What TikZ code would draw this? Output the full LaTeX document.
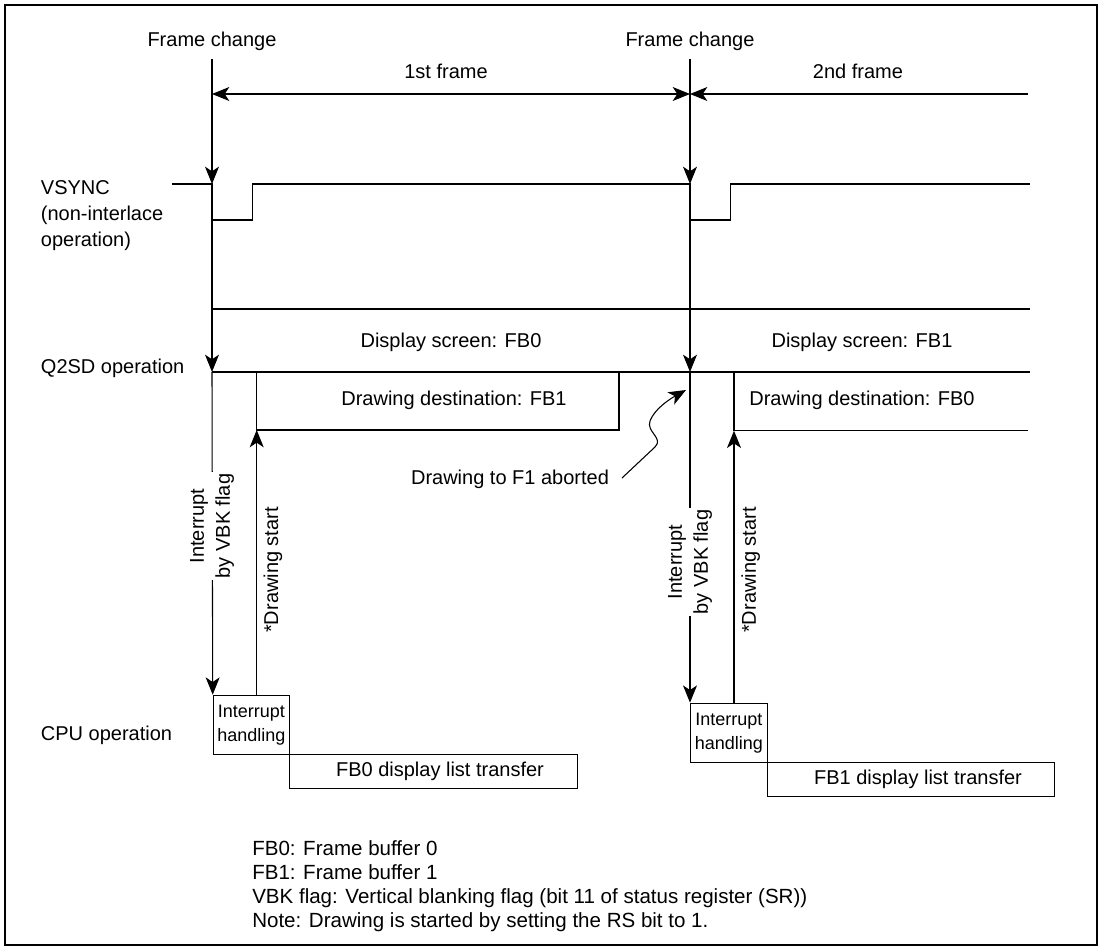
\documentclass[tikz,border=0pt]{standalone}
\usepackage{fontspec}
\setmainfont{Liberation Sans}
\usetikzlibrary{arrows.meta}
\tikzset{
  tip/.tip={Stealth[length=13pt,width=10.5pt,inset=3.5pt]},
  wire/.style={line width=0.8pt},
  arr/.style={wire,-tip},
  dblarr/.style={wire,tip-tip},
  txt/.style={inner sep=0pt,font=\fontsize{15}{19.5}\selectfont},
  smalltxt/.style={inner sep=0pt,font=\fontsize{13.5}{18}\selectfont},
  procbox/.style={draw,line width=0.8pt,inner sep=0pt,anchor=north west},
}
\begin{document}
\begin{tikzpicture}[x=0.75pt,y=-0.75pt]
\useasboundingbox (0,0) rectangle (1101,950);
\draw[line width=1.5pt] (5,5) rectangle (1097,945);

% frame change labels
\node[txt] (fc1) at (212,41) {Frame change};
\node[txt] (fc2) at (690,41) {Frame change};
\coordinate (l1top) at (212,59);
\coordinate (l2top) at (690,59);

% frame arrows
\coordinate (f1a) at (212,94);
\coordinate (f1b) at (690,94);
\coordinate (f2e) at (1028,94);
\draw[dblarr] (f1a) -- (f1b);
\draw[arr] (f2e) -- (f1b);
\node[txt] (first) at (446,71) {1st frame};
\node[txt] (second) at (858,71) {2nd frame};

% left labels
\node[txt,align=left,anchor=west] (vs) at (40.7,216) {VSYNC\\(non-interlace\\operation)};
\node[txt,anchor=west] (q2) at (40.7,368) {Q2SD operation};
\node[txt,anchor=west] (cpu) at (40.7,735) {CPU operation};

% VSYNC waveform
\coordinate (v1) at (212,184);
\coordinate (v2) at (690,184);
\draw[wire] (171.7,184) -- (v1) -- (212,220) -- (252.7,220) -- (252.7,184)
  -- (v2) -- (690,220) -- (730.7,220) -- (730.7,184) -- (1030,184);

% Q2SD operation
\coordinate (q1) at (212,372);
\coordinate (q2p) at (690,372);
\draw[wire] (212,309) -- (1030,309);
\draw[wire] (q1) -- (1030,372);
\node[txt] (ds0) at (451,342) {Display screen: FB0};
\node[txt] (ds1) at (862,342) {Display screen: FB1};
\coordinate (dd1bl) at (256.7,430);
\coordinate (dd2bl) at (734,430.7);
\draw[wire] (256.7,372) -- (dd1bl) -- (619,430) -- (619,372);
\draw[wire] (734,372) -- (dd2bl) -- (1028,430.7);
\node[txt] (dd1) at (454,400) {Drawing destination: FB1};
\node[txt] (dd2) at (862,400) {Drawing destination: FB0};

% CPU operation boxes
\node[procbox,minimum width=76.3*0.75pt,minimum height=59.3*0.75pt] (ih1) at (212.7,694.7) {};
\node[smalltxt,align=center] at (ih1.center) {Interrupt\\handling};
\node[procbox,minimum width=287.7*0.75pt,minimum height=34*0.75pt] (tr1) at (289,754) {};
\node[txt] (tr1t) at (440,771) {FB0 display list transfer};
\node[procbox,minimum width=76.7*0.75pt,minimum height=59.3*0.75pt] (ih2) at (690,702.7) {};
\node[smalltxt,align=center] at (ih2.center) {Interrupt\\handling};
\node[procbox,minimum width=287.3*0.75pt,minimum height=34*0.75pt] (tr2) at (766.7,762) {};
\node[txt] (tr2t) at (918,779) {FB1 display list transfer};

% vertical arrows
\draw[arr] (l1top) -- (v1);
\draw[arr] (v1) -- (q1);
\draw[arr] (q1) -- (ih1.north west);
\draw[arr] (l2top) -- (v2);
\draw[arr] (v2) -- (q2p);
\draw[arr] (q2p) -- (ih2.north west);
\coordinate (s1) at (256.7,694.7);
\coordinate (s2) at (734,702.7);
\draw[arr] (s1) -- (dd1bl);
\draw[arr] (s2) -- (dd2bl);

% rotated labels
\node[txt,fill=white,rotate=90,align=center,inner sep=1pt] (int1) at (212,526) {Interrupt\\by VBK flag};
\node[txt,fill=white,rotate=90,align=center,inner sep=1pt] (int2) at (690,562) {Interrupt\\by VBK flag};
\node[txt,rotate=90] (st1) at (273,570) {*Drawing start};
\node[txt,rotate=90] (st2) at (750.7,570) {*Drawing start};

% aborted note
\node[txt] (ab) at (510,479) {Drawing to F1 aborted};
\draw[arr] (622,478) -- (655,447) .. controls (664,438) and (646,432) .. (650,421)
  .. controls (654,410) and (668,400) .. (686,390);

% legend
\node[inner sep=0pt,anchor=west,align=left,font=\fontsize{15.4}{18}\selectfont] (leg) at (252,886)
{FB0: Frame buffer 0\\FB1: Frame buffer 1\\VBK flag: Vertical blanking flag (bit 11 of status register (SR))\\Note: Drawing is started by setting the RS bit to 1.};
\end{tikzpicture}
\end{document}
